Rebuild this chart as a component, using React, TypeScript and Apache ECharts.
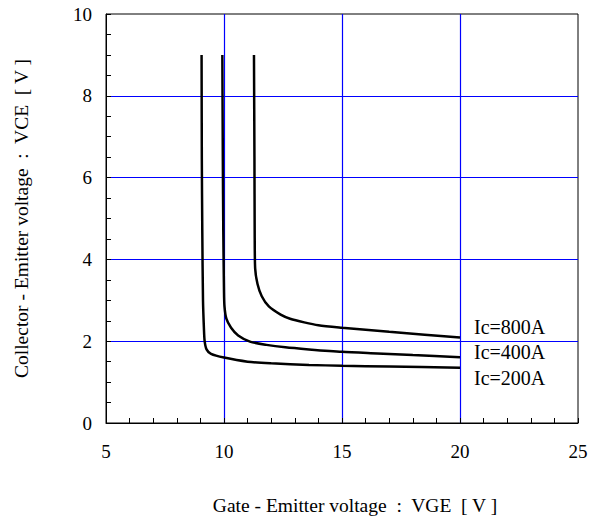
import React, { useEffect, useRef } from "react";
import * as echarts from "echarts";

const xTicks = [5, 10, 15, 20, 25];
const yTicks = [0, 2, 4, 6, 8, 10];

const seriesNames = ["Ic=800A", "Ic=400A", "Ic=200A"];

const ic800: [number, number][] = [
  [11.27, 9.0], [11.29, 6.5], [11.30, 4.7], [11.32, 3.78], [11.42, 3.4], [11.6, 3.1],
  [11.9, 2.85], [12.4, 2.65], [12.8, 2.55], [13.4, 2.46], [14.0, 2.39], [15.0, 2.33],
  [16.0, 2.28], [17.0, 2.23], [18.5, 2.16], [20.0, 2.09],
];
const ic400: [number, number][] = [
  [9.93, 9.0], [9.95, 6.5], [9.97, 4.7], [10.0, 3.2], [10.02, 2.85], [10.1, 2.55],
  [10.3, 2.33], [10.6, 2.14], [11.1, 1.99], [11.8, 1.91], [12.6, 1.85], [13.6, 1.80],
  [15.0, 1.74], [16.5, 1.70], [18.0, 1.66], [20.0, 1.61],
];
const ic200: [number, number][] = [
  [9.05, 9.0], [9.06, 6.5], [9.08, 4.7], [9.11, 3.0], [9.15, 2.3], [9.18, 2.0],
  [9.26, 1.8], [9.45, 1.69], [10.0, 1.60], [11.0, 1.50], [12.0, 1.46], [13.6, 1.42],
  [15.0, 1.40], [17.0, 1.38], [20.0, 1.35],
];

const labelOffsets: [number, number][] = [[6, -11], [6, -5], [6, 10]];

export default function App() {
  const ref = useRef<HTMLDivElement>(null);
  useEffect(() => {
    if (!ref.current) return;
    document.body.style.margin = "0";
    const chart = echarts.init(ref.current, undefined, { renderer: "svg" });
    const font = "'Liberation Serif', 'Times New Roman', serif";
    const datasets = [ic800, ic400, ic200];
    chart.setOption({
      animation: false,
      textStyle: { fontFamily: font },
      grid: {
        left: 106,
        right: 19,
        top: 14,
        bottom: 94,
        containLabel: false,
        outerBoundsMode: "none",
        show: true,
        borderColor: "#000",
        borderWidth: 1,
        backgroundColor: "transparent",
      },
      xAxis: {
        type: "value",
        min: xTicks[0],
        max: xTicks[xTicks.length - 1],
        interval: 5,
        name: "Gate - Emitter voltage  :  VGE  [ V ]",
        nameLocation: "middle",
        nameGap: 72,
        nameTextStyle: { fontFamily: font, fontSize: 19.5, color: "#000", padding: [0, 0, 0, 26] },
        axisLine: { show: true, lineStyle: { color: "#000", width: 1 } },
        axisTick: { show: true, inside: true, length: 5, lineStyle: { color: "#000" } },
        minorTick: { show: true, splitNumber: 5, length: 5, lineStyle: { color: "#000" } },
        axisLabel: { fontFamily: font, fontSize: 19, color: "#000", margin: 19 },
        splitLine: {
          show: true,
          showMinLine: false,
          showMaxLine: false,
          lineStyle: { color: "#0000ff", width: 1.2 },
        },
      },
      yAxis: {
        type: "value",
        min: yTicks[0],
        max: yTicks[yTicks.length - 1],
        interval: 2,
        name: "Collector - Emitter voltage  :  VCE  [ V ]",
        nameLocation: "middle",
        nameGap: 75,
        nameRotate: 90,
        nameTextStyle: { fontFamily: font, fontSize: 19.5, color: "#000" },
        axisLine: { show: true, lineStyle: { color: "#000", width: 1 } },
        axisTick: { show: true, inside: true, length: 5, lineStyle: { color: "#000" } },
        minorTick: { show: true, splitNumber: 4, length: 5, lineStyle: { color: "#000" } },
        axisLabel: { fontFamily: font, fontSize: 19, color: "#000", margin: 14 },
        splitLine: {
          show: true,
          showMinLine: false,
          showMaxLine: false,
          lineStyle: { color: "#0000ff", width: 1.2 },
        },
      },
      series: datasets.map((d, i) => ({
        type: "line",
        name: seriesNames[i],
        data: d,
        showSymbol: false,
        smooth: 0.25,
        lineStyle: { color: "#000", width: 2.5 },
        itemStyle: { color: "#000" },
        endLabel: {
          show: true,
          formatter: seriesNames[i],
          offset: labelOffsets[i],
          fontFamily: font,
          fontSize: 20,
          color: "#000",
        },
      })),
    });
    return () => chart.dispose();
  }, []);
  return <div ref={ref} style={{ width: 597, height: 517 }} />;
}
